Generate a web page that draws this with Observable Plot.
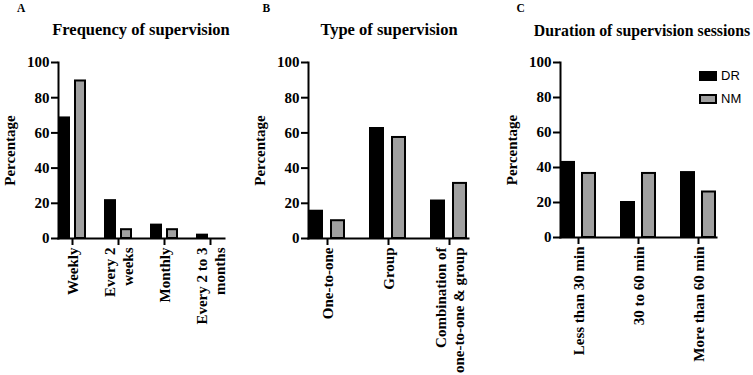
<!DOCTYPE html>
<html>
<head>
<meta charset="utf-8">
<script src="https://cdn.jsdelivr.net/npm/d3@7"></script>
<script src="https://cdn.jsdelivr.net/npm/@observablehq/plot@0.6"></script>
<style>
  html, body { margin: 0; padding: 0; background: white; }
  #root { position: relative; width: 753px; height: 375px; overflow: hidden; font-family: "Liberation Serif", "Times New Roman", serif; }
  .panel { position: absolute; top: 0; }
  .letter { position: absolute; font-weight: bold; font-size: 11.5px; line-height: 1; }
  .title { position: absolute; font-weight: bold; font-size: 16.5px; line-height: 1; text-align: center; white-space: nowrap; }
  .legend { position: absolute; font-family: "Liberation Sans", Arial, sans-serif; font-size: 13px; }
  .legend .row { display: flex; align-items: center; height: 23px; }
  .legend .sw { width: 14px; height: 6px; border: 2px solid black; margin-right: 4px; box-sizing: content-box; }
</style>
</head>
<body>
<div id="root"></div>
<script>
// ---- data ----
const series = ["DR", "NM"];
const seriesColors = ["#000000", "#a0a0a0"];
const yTicks = [0, 20, 40, 60, 80, 100];

const freqCategories = ["Weekly", "Every 2 weeks", "Monthly", "Every 2 to 3 months"];
const freqLabels = ["Weekly", "Every 2\nweeks", "Monthly", "Every 2 to 3\nmonths"];
const freqDR = [68.5, 21.5, 7.6, 1.9];
const freqNM = [89.5, 5.0, 5.0, 0];

const typeCategories = ["One-to-one", "Group", "Combination of one-to-one & group"];
const typeLabels = ["One-to-one", "Group", "Combination of\none-to-one & group"];
const typeDR = [15.5, 62.5, 21.3];
const typeNM = [10.1, 57.4, 31.3];

const durCategories = ["Less than 30 min", "30 to 60 min", "More than 60 min"];
const durLabels = ["Less than 30 min", "30 to 60 min", "More than 60 min"];
const durDR = [42.9, 20.0, 37.1];
const durNM = [36.6, 36.6, 26.0];

const panels = [
  {letter: "A", title: "Frequency of supervision", cats: freqCategories, labels: freqLabels, dr: freqDR, nm: freqNM,
   left: 0, width: 250, ml: 52, mr: 20, mt: 62, mb: 137, pi: 0.391, po: 0.13, letterX: 17, titleCx: 141, titleSize: 16.5},
  {letter: "B", title: "Type of supervision", cats: typeCategories, labels: typeLabels, dr: typeDR, nm: typeNM,
   left: 250, width: 250, ml: 49, mr: 23, mt: 62, mb: 137, pi: 0.378, po: 0.129, letterX: 262.5, titleCx: 389, titleSize: 16.5},
  {letter: "C", title: "Duration of supervision sessions", cats: durCategories, labels: durLabels, dr: durDR, nm: durNM,
   left: 500, width: 253, ml: 52, mr: 28, mt: 62, mb: 138, pi: 0.398, po: 0.119, letterX: 516.5, titleCx: 642, titleSize: 15.8}
];

const root = document.getElementById("root");

for (const p of panels) {
  const rows = [];
  p.cats.forEach((c, i) => {
    rows.push({cat: c, series: "DR", value: p.dr[i]});
    rows.push({cat: c, series: "NM", value: p.nm[i]});
  });
  const labelOf = new Map(p.cats.map((c, i) => [c, p.labels[i]]));

  const chart = Plot.plot({
    width: p.width,
    height: 375,
    marginLeft: p.ml,
    marginRight: p.mr,
    marginTop: p.mt,
    marginBottom: p.mb,
    style: {fontFamily: "'Liberation Serif', 'Times New Roman', serif", fontWeight: "bold", fontSize: "15px", color: "black", background: "transparent", overflow: "visible"},
    fx: {domain: p.cats, paddingInner: p.pi, paddingOuter: p.po, label: null, axis: null},
    x: {domain: series, paddingInner: 0.4, paddingOuter: 0.03, axis: null},
    y: {domain: [0, 100]},
    color: {domain: series, range: seriesColors},
    marks: [
      Plot.barY(rows, {fx: "cat", x: "series", y: "value", fill: "series", stroke: "black", strokeWidth: 2}),
      Plot.axisY({ticks: yTicks, tickSize: 7, tickPadding: 2, strokeWidth: 2, label: "Percentage", labelAnchor: "center", labelArrow: "none", labelOffset: 54, fontSize: 15}),
      Plot.axisFx({anchor: "bottom", tickSize: 7, tickPadding: 2, strokeWidth: 2, tickRotate: -90, tickFormat: (d) => labelOf.get(d), label: null, fontSize: 15, lineHeight: 1.15}),
      Plot.frame({anchor: "left", facet: "super", strokeWidth: 2}),
      Plot.frame({anchor: "bottom", facet: "super", strokeWidth: 2})
    ]
  });
  chart.classList.add("panel");
  chart.style.left = p.left + "px";
  root.appendChild(chart);

  const letter = document.createElement("div");
  letter.className = "letter";
  letter.textContent = p.letter;
  letter.style.left = p.letterX + "px";
  letter.style.top = "3px";
  root.appendChild(letter);

  const title = document.createElement("div");
  title.className = "title";
  title.textContent = p.title;
  title.style.fontSize = p.titleSize + "px";
  title.style.left = (p.titleCx - 150) + "px";
  title.style.width = "300px";
  title.style.top = (36 - 0.8375 * p.titleSize) + "px";
  root.appendChild(title);
}

// legend (panel C)
const legend = document.createElement("div");
legend.className = "legend";
legend.style.left = "699px";
legend.style.top = "64px";
series.forEach((s, i) => {
  const row = document.createElement("div");
  row.className = "row";
  const sw = document.createElement("span");
  sw.className = "sw";
  sw.style.background = seriesColors[i];
  const t = document.createElement("span");
  t.textContent = s;
  row.appendChild(sw);
  row.appendChild(t);
  legend.appendChild(row);
});
root.appendChild(legend);
</script>
</body>
</html>
